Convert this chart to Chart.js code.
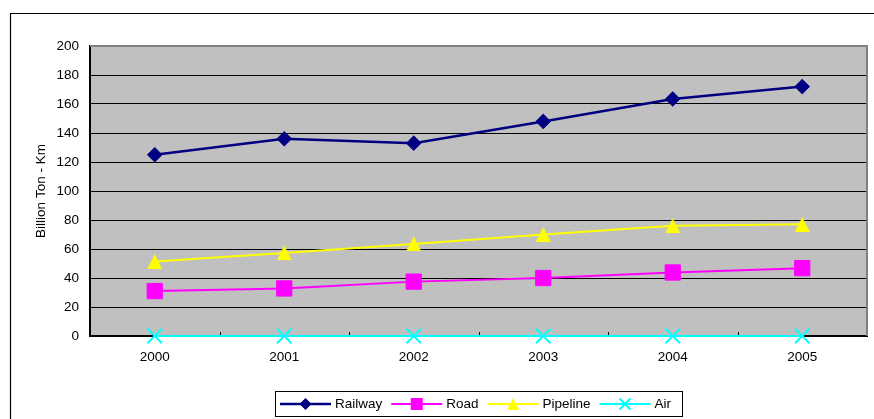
<!DOCTYPE html>
<html>
<head>
<meta charset="utf-8">
<script src="https://cdn.jsdelivr.net/npm/chart.js@4/dist/chart.umd.min.js"></script>
<style>
  html, body { margin: 0; padding: 0; background: #fff; }
  canvas { display: block; }
</style>
</head>
<body>
<canvas id="c" width="874" height="419"></canvas>
<script>
// Freight turnover by transport mode, billion ton-km
const years = ['2000', '2001', '2002', '2003', '2004', '2005'];
const railway  = [125, 136, 133, 148, 163.5, 172];
const road     = [31, 32.8, 37.5, 40, 43.8, 46.8];
const pipeline = [51.3, 57.3, 63.5, 70, 76, 77];
const air      = [0, 0, 0, 0, 0, 0];
const seriesNames = ['Railway', 'Road', 'Pipeline', 'Air'];
const yTicks = [0, 20, 40, 60, 80, 100, 120, 140, 160, 180, 200];
const yTitle = 'Billion Ton - Km';

const FONT = 'Liberation Sans, Arial, sans-serif';
const FS = 13.5;

// triangle marker centred on its bounding box
function triangleImage(size, color) {
  const cv = document.createElement('canvas');
  cv.width = size; cv.height = size;
  const c = cv.getContext('2d');
  c.fillStyle = color;
  c.beginPath();
  c.moveTo(size / 2, 0); c.lineTo(size, size); c.lineTo(0, size);
  c.closePath(); c.fill();
  return cv;
}

const styles = [
  { color: '#000080', point: 'rectRot', radius: 7.3, width: 2.5 },
  { color: '#FF00FF', point: 'rect', radius: 10.8, width: 2 },
  { color: '#FFFF00', point: triangleImage(15, '#FFFF00'), radius: 7.5, width: 2 },
  { color: '#00FFFF', point: 'crossRot', radius: 10.2, width: 2 }
];
const legendShapes = ['rectRot', 'rect', 'triangle', 'crossRot'];
const seriesData = [railway, road, pipeline, air];

const datasets = seriesNames.map((name, i) => ({
  label: name,
  data: seriesData[i],
  borderColor: styles[i].color,
  backgroundColor: styles[i].color,
  borderWidth: styles[i].width,
  pointStyle: styles[i].point,
  pointRadius: styles[i].radius,
  pointHoverRadius: styles[i].radius,
  pointBackgroundColor: styles[i].color,
  pointBorderColor: styles[i].color,
  pointBorderWidth: legendShapes[i] === 'crossRot' ? 2 : 1,
  tension: 0,
  clip: false
}));

// small marker for the legend strip
function legendMarker(ctx, type, x, y, r, color) {
  ctx.save();
  ctx.fillStyle = color;
  ctx.strokeStyle = color;
  ctx.lineWidth = 1;
  ctx.beginPath();
  if (type === 'rectRot') {
    ctx.moveTo(x - r, y); ctx.lineTo(x, y - r); ctx.lineTo(x + r, y); ctx.lineTo(x, y + r);
    ctx.closePath(); ctx.fill();
  } else if (type === 'rect') {
    ctx.rect(x - r, y - r, 2 * r, 2 * r); ctx.fill();
  } else if (type === 'triangle') {
    ctx.moveTo(x, y - r); ctx.lineTo(x + r, y + r); ctx.lineTo(x - r, y + r);
    ctx.closePath(); ctx.fill();
  } else {
    ctx.lineWidth = 2;
    ctx.moveTo(x - r, y - r); ctx.lineTo(x + r, y + r);
    ctx.moveTo(x + r, y - r); ctx.lineTo(x - r, y + r);
    ctx.stroke();
  }
  ctx.restore();
}

const framePlugin = {
  id: 'frame',
  beforeDraw(chart) {
    const { ctx, chartArea: a } = chart;
    ctx.save();
    // outer frame
    ctx.strokeStyle = '#000';
    ctx.lineWidth = 1.2;
    ctx.beginPath();
    ctx.moveTo(10.5, 419); ctx.lineTo(10.5, 13.5); ctx.lineTo(874, 13.5);
    ctx.stroke();
    // plot background
    ctx.fillStyle = '#C0C0C0';
    ctx.fillRect(a.left, a.top, a.right - a.left, a.bottom - a.top);
    ctx.restore();
  },
  beforeDatasetsDraw(chart) {
    const { ctx, chartArea: a, scales } = chart;
    ctx.save();
    // top and right edges of plot area
    ctx.strokeStyle = '#808080';
    ctx.lineWidth = 2;
    ctx.beginPath();
    ctx.moveTo(a.left, a.top); ctx.lineTo(a.right, a.top); ctx.lineTo(a.right, a.bottom);
    ctx.stroke();
    // category boundary ticks on the x axis
    ctx.strokeStyle = '#000';
    ctx.lineWidth = 1;
    const x = scales.x;
    for (let i = 0; i < years.length - 1; i++) {
      const px = Math.round((x.getPixelForValue(i) + x.getPixelForValue(i + 1)) / 2) + 0.5;
      ctx.beginPath();
      ctx.moveTo(px, a.bottom); ctx.lineTo(px, a.bottom - 4);
      ctx.stroke();
    }
    ctx.restore();
  },
  afterDraw(chart) {
    const { ctx, chartArea: a } = chart;
    ctx.save();
    // y axis title
    ctx.font = FS + 'px ' + FONT;
    ctx.fillStyle = '#000';
    ctx.textAlign = 'center';
    ctx.textBaseline = 'middle';
    ctx.translate(41, (a.top + a.bottom) / 2);
    ctx.rotate(-Math.PI / 2);
    ctx.fillText(yTitle, 0, 0);
    ctx.restore();

    // legend
    ctx.save();
    ctx.strokeStyle = '#000';
    ctx.lineWidth = 1;
    ctx.strokeRect(275.5, 391.5, 407, 25);
    ctx.font = FS + 'px ' + FONT;
    ctx.textBaseline = 'middle';
    ctx.fillStyle = '#000';
    const ly = 404;
    let lx = 280;
    const sizes = [6, 6, 6, 5.5];
    seriesNames.forEach((name, i) => {
      ctx.strokeStyle = styles[i].color;
      ctx.lineWidth = styles[i].width;
      ctx.beginPath();
      ctx.moveTo(lx, ly); ctx.lineTo(lx + 51, ly);
      ctx.stroke();
      legendMarker(ctx, legendShapes[i], lx + 25.5, ly, sizes[i], styles[i].color);
      ctx.fillStyle = '#000';
      ctx.fillText(name, lx + 55, ly);
      lx += 55 + ctx.measureText(name).width + 9;
    });
    ctx.restore();
  }
};

new Chart(document.getElementById('c'), {
  type: 'line',
  data: { labels: years, datasets },
  options: {
    responsive: false,
    devicePixelRatio: 1,
    animation: false,
    events: [],
    layout: { autoPadding: false, padding: { left: 0, top: 46, right: 7, bottom: 0 } },
    plugins: { legend: { display: false }, tooltip: { enabled: false } },
    scales: {
      x: {
        offset: true,
        grid: { display: false, drawTicks: false },
        border: { display: true, color: '#000', width: 2 },
        ticks: { color: '#000', font: { family: FONT, size: FS }, padding: 13, maxRotation: 0 },
        afterFit(s) { s.height = 419 - 336; s.paddingLeft = 0; s.paddingRight = 0; }
      },
      y: {
        min: 0, max: 200,
        afterBuildTicks(s) { s.ticks = yTicks.map(v => ({ value: v })); },
        grid: { color: '#000', lineWidth: 1, drawTicks: false },
        border: { display: true, color: '#000', width: 2 },
        ticks: { color: '#000', font: { family: FONT, size: FS }, padding: 11 },
        afterFit(s) { s.width = 90; s.paddingTop = 0; s.paddingBottom = 0; }
      }
    }
  },
  plugins: [framePlugin]
});
</script>
</body>
</html>
